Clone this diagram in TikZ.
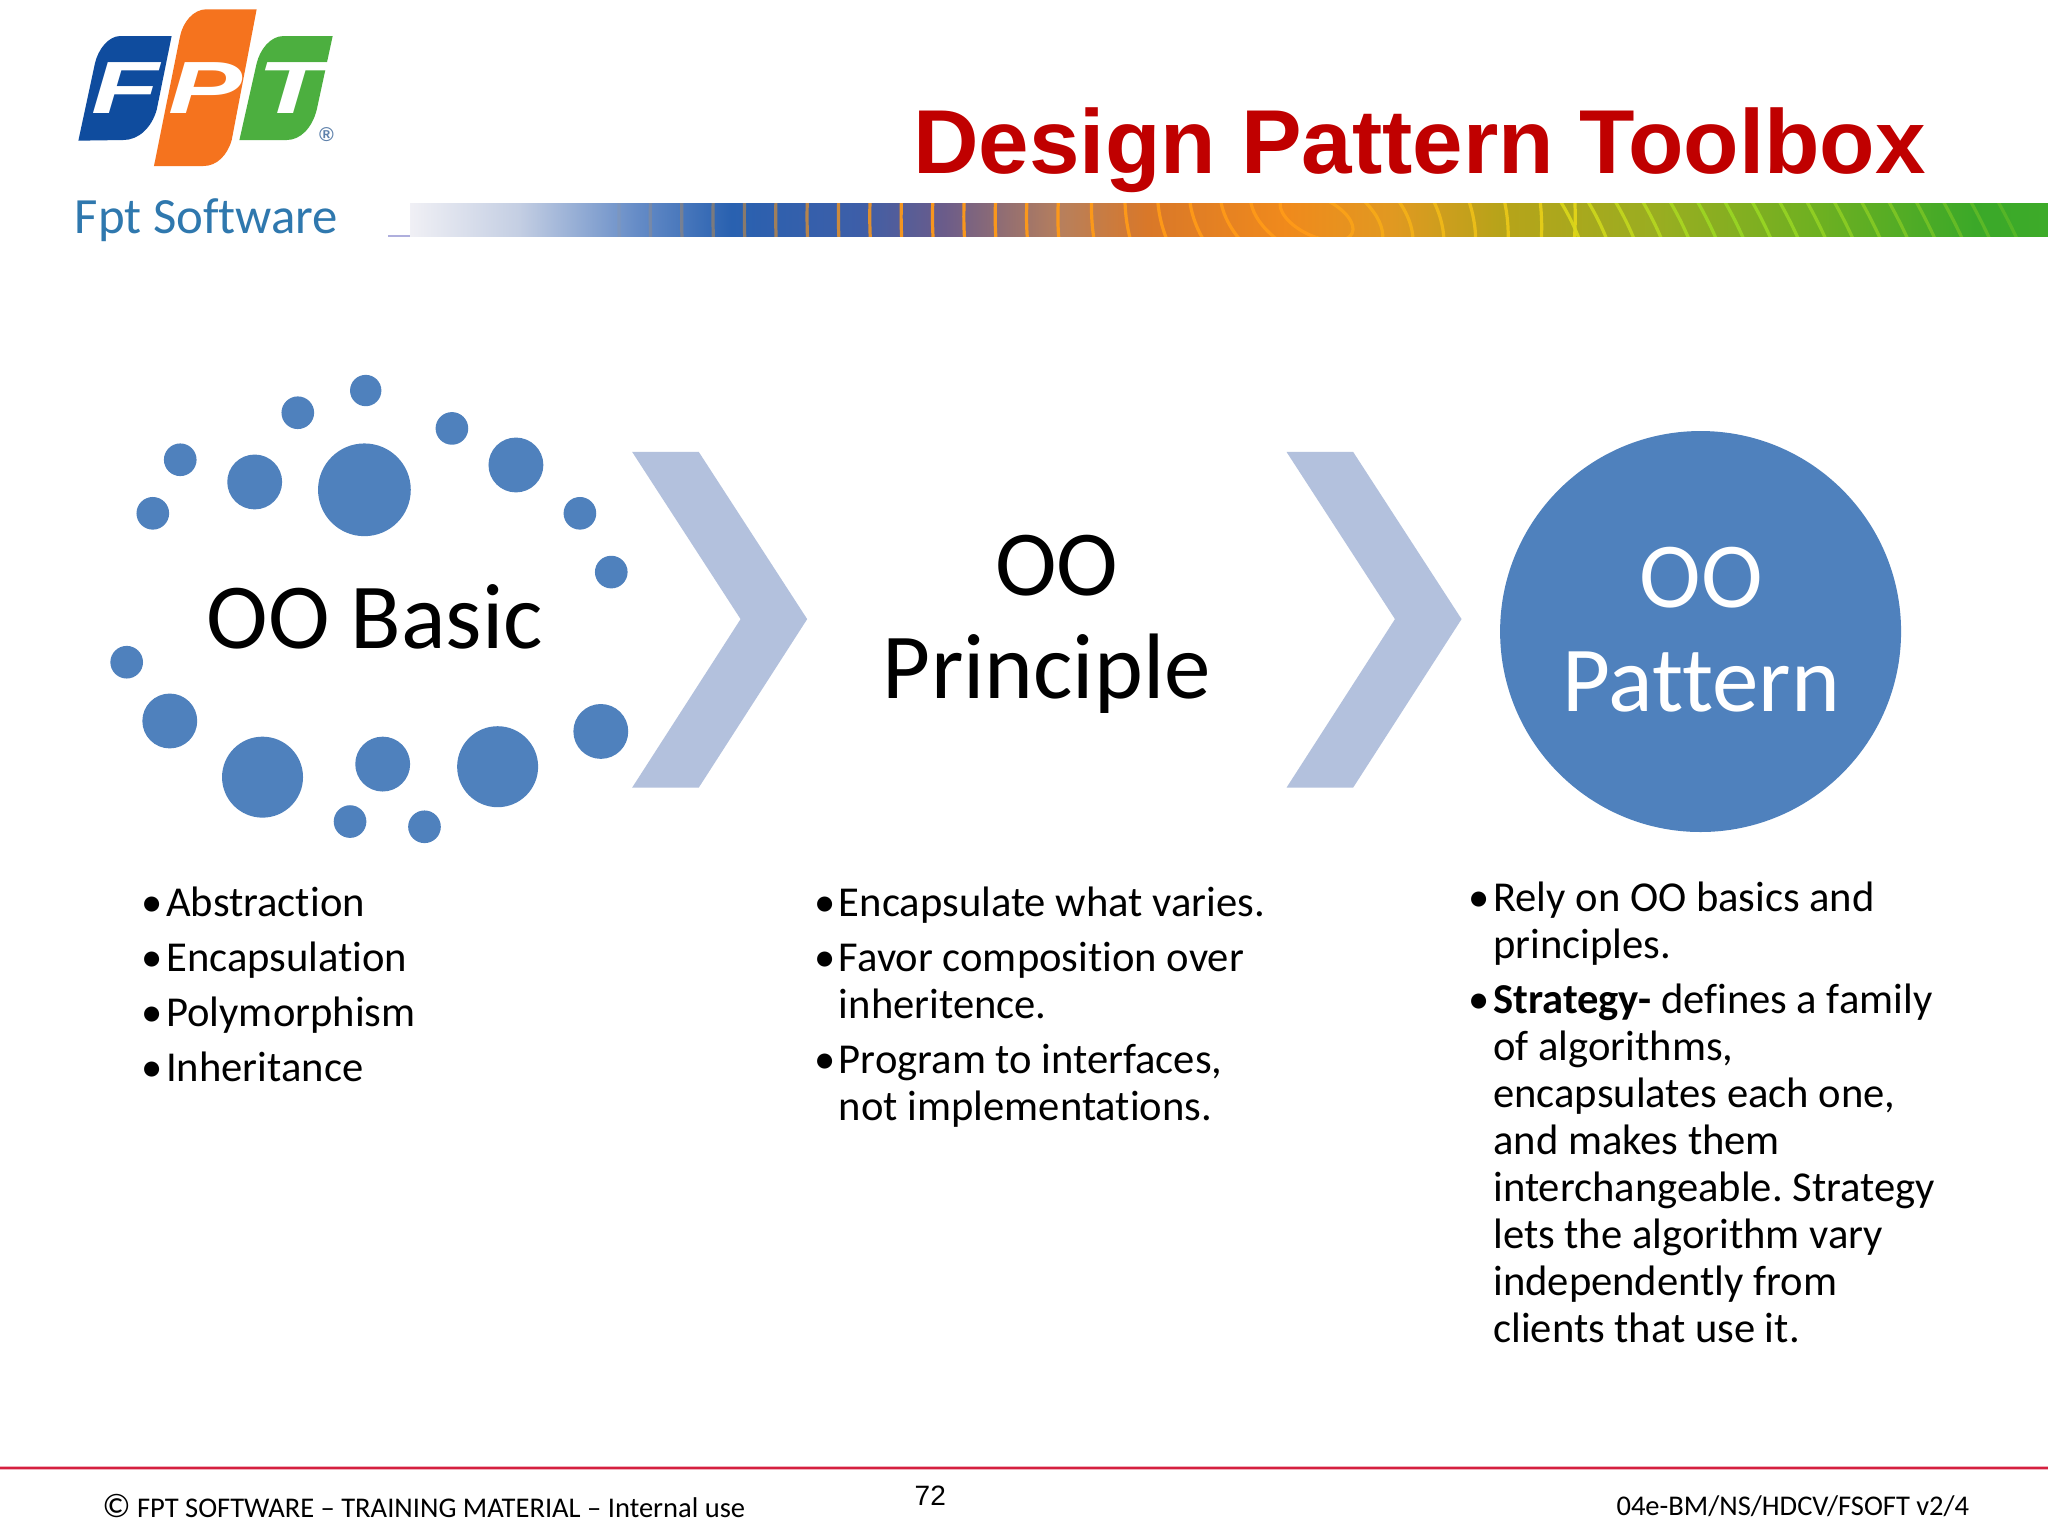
\documentclass[tikz,border=0pt]{standalone}
\usepackage{fontspec}
\usepackage{graphicx}
\setmainfont{Carlito}[Ligatures={TeX,CommonOff}]
\newfontfamily\arialf{Liberation Sans}
\definecolor{dotblue}{HTML}{4F81BD}
\definecolor{chev}{HTML}{B3C1DD}
\definecolor{titlered}{HTML}{C00000}
\definecolor{footred}{HTML}{D5203F}
\definecolor{fptblue}{HTML}{0F4C9E}
\definecolor{fptorange}{HTML}{F5731E}
\definecolor{fptgreen}{HTML}{4CAF3F}
\definecolor{softblue}{HTML}{2F78AE}
\definecolor{ringa}{HTML}{FF9A18}
\definecolor{ringb}{HTML}{E6D818}
\definecolor{ringc}{HTML}{9AD824}
\pgfdeclarehorizontalshading{barshade}{100bp}{
color(0bp)=(white);
rgb(25bp)=(.94,.94,.96);
rgb(28.3bp)=(.77,.81,.89);
rgb(31.9bp)=(.40,.55,.78);
rgb(34.8bp)=(.16,.38,.69);
rgb(38.7bp)=(.24,.37,.66);
rgb(41.3bp)=(.42,.36,.54);
rgb(44.9bp)=(.72,.50,.36);
rgb(47.5bp)=(.85,.47,.16);
rgb(51.7bp)=(.94,.54,.11);
rgb(55bp)=(.88,.60,.13);
rgb(58.2bp)=(.72,.64,.10);
rgb(63.1bp)=(.60,.68,.13);
rgb(68bp)=(.43,.69,.13);
rgb(72.8bp)=(.23,.66,.16);
rgb(75bp)=(.24,.67,.16);
color(100bp)=(white)}
\tikzset{
  dot/.style={fill=dotblue},
  chevron/.style={fill=chev},
  headline/.style={font=\fontsize{46.5}{52}\selectfont,align=center,inner sep=0pt,anchor=center},
  bullets/.style={font=\fontsize{21.3}{23.5}\selectfont,align=left,inner sep=0pt,anchor=north west},
  foot/.style={font=\fontsize{14.27}{16}\selectfont,inner sep=0pt,anchor=base west},
  logoletter/.style={font=\arialf\bfseries\itshape\fontsize{37}{37}\selectfont,text=white,inner sep=0pt},
  ring/.style={line width=1.6pt},
}
\newcommand{\bul}{\makebox[11.1pt][l]{\hspace*{-1.2pt}•}}
\newcommand{\ind}{\hspace*{11.1pt}}
\begin{document}
\frenchspacing
\begin{tikzpicture}[x=0.65306pt,y=-0.65306pt]
\useasboundingbox (0,0) rectangle (1568,1176);
\fill[white] (0,0) rectangle (1568,1176);
% logo
\fill[fptblue] (131.4,27.6) -- (120,84) .. controls (116,98) and (106,107.2) .. (94.4,107.2) -- (60,107.7) -- (72.7,48.5) .. controls (75,38) and (83,27.6) .. (92,27.6) -- cycle;
\fill[fptorange] (196.5,7.1) -- (177.4,107.2) .. controls (174,119) and (166,127.1) .. (155.7,127.1) -- (117.9,127.1) -- (137.8,28) .. controls (140,17) and (148,7.1) .. (158.2,7.1) -- cycle;
\fill[fptgreen] (254.7,27.6) -- (242.5,84) .. controls (239,98) and (230,107.2) .. (219.5,107.2) -- (183.3,107.2) -- (196.5,48.5) .. controls (199,38) and (207,27.6) .. (217,27.6) -- cycle;
\node[logoletter] (lf) at (95.7,67.6) {\scalebox{1.5}[1]{F}};
\node[logoletter] (lp) at (157,67.6) {\scalebox{1.5}[1]{P}};
\node[logoletter] (lt) at (223,67.6) {\scalebox{1.5}[1]{T}};
\node[inner sep=0pt,text=dotblue!70!gray,font=\arialf\bfseries\fontsize{10}{10}\selectfont] (reg) at (250,103.4) {®};
\node[inner sep=0pt,anchor=base west,text=softblue,font=\fontsize{25.4}{28}\selectfont] (soft) at (57,179) {Fpt Software};
% title
\node[inner sep=0pt,anchor=base west,text=titlered,font=\arialf\bfseries\fontsize{45.4}{50}\selectfont] (title) at (699,133) {Design Pattern Toolbox};
% bar
\fill[gray!60!blue!45] (297,180.2) rectangle (1568,181.6);
\begin{scope}
\clip (314,156) rectangle (1568,181);
\shade[shading=barshade] (314,156) rectangle (1568,181);
\begin{scope}
\clip (314,156) rectangle (1008,181);
\foreach \r in {30,54,...,540}{
  \pgfmathsetmacro\op{max(0.05,min(0.95,2.2-\r/250))}
  \pgfmathsetmacro\bb{\r*(0.4+min(0.6,\r/320))}
  \draw[ring,shift={(1008,166)},rotate=-25,draw=ringa,opacity=\op] (0,0) ellipse [x radius=\r,y radius=\bb];
}
\end{scope}
\begin{scope}
\clip (1008,156) rectangle (1568,181);
\foreach \r in {30,54,...,200}{
  \pgfmathsetmacro\mx{\r/2}
  \pgfmathsetmacro\bb{\r*(0.4+min(0.6,\r/320))}
  \draw[ring,shift={(1008,166)},rotate=-25,draw=ringb!\mx!ringa,opacity=.9] (0,0) ellipse [x radius=\r,y radius=\bb];
}
\foreach \r in {222,246,...,620}{
  \pgfmathsetmacro\mx{min(100,(\r-200)/1.5)}
  \pgfmathsetmacro\op{max(0.05,min(0.9,2-\r/350))}
  \pgfmathsetmacro\bb{\r*(0.4+min(0.2,\r/800))}
  \draw[ring,shift={(1008,166)},rotate=-25,draw=ringc!\mx!ringb,opacity=\op] (0,0) ellipse [x radius=\r,y radius=\bb];
}
\end{scope}
\end{scope}
% dots
\foreach \x/\y/\rr in {280/299/12,228/316/12.5,346/328/12.5,138/352/12.5,195/369/21,279/375/35.5,395/356/21,117/393/12.5,444/393/12.5,468/438/12.5,97/507/12.5,130/552/21,460/560/21,201/595/31,293/585/21,381/587/31,268/629/12.5,325/633/12.5}
  \fill[dot] (\x,\y) circle [radius=\rr];
% chevrons
\fill[chevron] (484,346) -- (535,346) -- (618,474) -- (535,603) -- (484,603) -- (567,474) -- cycle;
\fill[chevron] (985,346) -- (1036,346) -- (1119,474) -- (1036,603) -- (985,603) -- (1068,474) -- cycle;
\fill[dot] (1302,483.5) circle [radius=153.5];
% headlines
\node[headline] (basic) at (287,472.5) {OO Basic};
\node[headline] (principle) at (801.5,478) {\hspace*{9.8pt}OO\\[-0.2pt]Principle};
\node[headline,text=white] (pattern) at (1302.5,482) {OO\\[-0.2pt]Pattern};
% bullet lists
\node[bullets] (l1) at (110,676) {\strut\bul Abstraction\\[4pt]\bul Encapsulation\\[4pt]\bul Polymorphism\\[4pt]\bul Inheritance};
\node[bullets] (l2) at (625,676) {\strut\bul Encapsulate what varies.\\[4pt]\bul Favor composition over\\\ind inheritence.\\[4pt]\bul Program to interfaces,\\\ind not implementations.};
\node[bullets] (l3) at (1126,672) {\strut\bul Rely on OO basics and\\\ind principles.\\[4pt]\bul\textbf{Strategy-} defines a family\\\ind of algorithms,\\\ind encapsulates each one,\\\ind and makes them\\\ind interchangeable. Strategy\\\ind lets the algorithm vary\\\ind independently from\\\ind clients that use it.};
% footer
\fill[footred!35] (0,1122.2) rectangle (1568,1125.4);
\fill[footred] (0,1122.9) rectangle (1568,1124.7);
\node[foot] (f1) at (78,1162) {{\fontsize{17}{17}\selectfont ©} FPT SOFTWARE – TRAINING MATERIAL – Internal use};
\node[foot,font=\arialf\fontsize{14}{16}\selectfont] (f2) at (700,1153) {72};
\node[foot,anchor=base east] (f3) at (1508,1160) {04e-BM/NS/HDCV/FSOFT v2/4};
\end{tikzpicture}
\end{document}
